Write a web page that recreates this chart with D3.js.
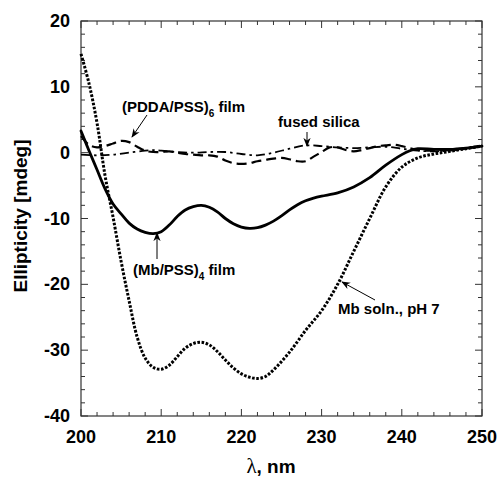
<!DOCTYPE html>
<html lang='en'>
  <head>
    <style type='text/css'>
      body {margin: 0; background-color: #fff;}
      svg {font-family: Arial, "Liberation Sans", sans-serif; font-weight: bold;}
    </style>
  </head>
  <body>
    <svg id='chart' width='498' height='483'></svg>
    <script src='https://d3js.org/d3.v7.min.js'></script>
    <script type='text/javascript'>
        // Data
        var solnLam = [200, 201, 202, 203, 204, 205, 206, 207, 208, 209, 210, 211, 212, 213, 214, 215, 216, 217, 218, 219, 220, 221, 222, 223, 224, 226, 228, 230, 232, 234, 236, 238, 240, 242, 244, 246, 248, 250];
        var solnVal = [15, 10.5, 4.5, -3.5, -9.8, -16.5, -22.5, -28, -31.2, -32.6, -32.9, -32.3, -31, -29.7, -29, -28.8, -29.2, -30.2, -31.5, -32.7, -33.6, -34.1, -34.3, -34, -33, -30.3, -27, -24, -20, -15, -10, -5.2, -2.2, -0.8, -0.2, 0.2, 0.6, 1];

        var filmLam = [200, 201, 202, 203, 204, 205, 206, 207, 208, 209, 210, 211, 212, 213, 214, 215, 216, 217, 218, 219, 220, 221, 222, 223, 224, 225, 226, 227, 228, 229, 230, 232, 234, 236, 238, 240, 241, 242, 244, 246, 248, 250];
        var filmVal = [3.3, 0.3, -2.6, -5.5, -7.8, -9.3, -10.7, -11.6, -12.1, -12.3, -12.0, -11, -9.7, -8.7, -8.2, -8.0, -8.3, -9, -10, -10.8, -11.3, -11.5, -11.4, -11, -10.4, -9.6, -8.7, -7.9, -7.3, -6.9, -6.6, -6.1, -5.2, -3.8, -1.9, -0.3, 0.3, 0.6, 0.5, 0.5, 0.7, 1];

        var pddaLam = [200, 201, 202, 203, 204, 205, 206, 207, 208, 209, 210, 211, 212, 213, 214, 215, 216, 217, 218, 219, 220, 221, 222, 223, 224, 225, 226, 227, 228, 229, 230, 231, 232, 233, 234, 235, 236, 237, 238, 239, 240, 241, 242, 244, 246, 248, 250];
        var pddaVal = [2.5, 1.2, 0.8, 1.0, 1.4, 1.8, 1.6, 0.9, 0.3, 0.1, 0.1, 0.2, 0, -0.2, -0.3, -0.4, -0.4, -0.6, -1.2, -1.6, -1.7, -1.6, -1.3, -1.1, -0.9, -0.8, -1.0, -1.3, -1.3, -0.6, 0.1, 0.8, 0.8, 0.4, 0.2, 0.4, 0.7, 1.0, 1.1, 1.2, 1.0, 0.7, 0.4, 0.3, 0.4, 0.7, 1.1];

        var silicaLam = [200, 202, 204, 206, 208, 209, 210, 212, 214, 216, 218, 220, 222, 224, 226, 228, 230, 232, 234, 236, 238, 240, 242, 244, 246, 248, 250];
        var silicaVal = [-0.3, -0.4, -0.3, 0.0, 0.3, 0.4, 0.3, 0.1, 0.0, 0.1, 0.1, -0.2, -0.4, 0, 0.6, 1.1, 1.0, 0.8, 0.7, 0.8, 0.9, 0.6, 0.3, 0.2, 0.3, 0.6, 1.0];

        var xTicks = [200, 210, 220, 230, 240, 250];
        var yTicks = [20, 10, 0, -10, -20, -30, -40];

        var svg = d3.select("#chart");
        var margin = {top: 21, right: 16, bottom: 67, left: 81};
        var width = 498 - margin.left - margin.right;
        var height = 483 - margin.top - margin.bottom;

        var x = d3.scaleLinear().domain([200, 250]).range([0, width]);
        var y = d3.scaleLinear().domain([-40, 20]).range([height, 0]);

        var g = svg.append("g")
            .attr("transform", "translate(" + margin.left + "," + margin.top + ")");

        // ticks, inward on all four sides
        var xMinor = d3.range(200, 251, 2);
        var yMinor = d3.range(-40, 21, 2);
        function isMajor(v) { return v % 10 === 0; }

        var ticks = g.append("g").attr("stroke", "#333").attr("stroke-width", 1);
        xMinor.forEach(function(v) {
          var len = isMajor(v) ? 7 : 4;
          ticks.append("line").attr("x1", x(v)).attr("x2", x(v)).attr("y1", height).attr("y2", height - len);
          ticks.append("line").attr("x1", x(v)).attr("x2", x(v)).attr("y1", 0).attr("y2", len);
        });
        yMinor.forEach(function(v) {
          var len = isMajor(v) ? 7 : 4;
          ticks.append("line").attr("y1", y(v)).attr("y2", y(v)).attr("x1", 0).attr("x2", len);
          ticks.append("line").attr("y1", y(v)).attr("y2", y(v)).attr("x1", width).attr("x2", width - len);
        });

        g.append("rect")
            .attr("width", width).attr("height", height)
            .attr("fill", "none").attr("stroke", "#333").attr("stroke-width", 1.2);

        // tick labels
        g.selectAll(".xl").data(xTicks).enter().append("text")
            .attr("x", function(d) { return x(d); })
            .attr("y", height + 27)
            .attr("text-anchor", "middle")
            .attr("font-size", 18)
            .text(function(d) { return d; });
        g.selectAll(".yl").data(yTicks).enter().append("text")
            .attr("x", -11)
            .attr("y", function(d) { return y(d) + 6; })
            .attr("text-anchor", "end")
            .attr("font-size", 18)
            .text(function(d) { return d; });

        // axis titles
        var xt = svg.append("text")
            .attr("x", 271)
            .attr("y", 473)
            .attr("text-anchor", "middle")
            .attr("font-size", 19);
        xt.append("tspan").attr("font-family", "'Liberation Serif', 'DejaVu Serif', serif")
            .attr("font-weight", "normal").attr("font-size", 21).text("\u03bb");
        xt.append("tspan").text(", nm");
        svg.append("text")
            .attr("transform", "translate(27,216) rotate(-90)")
            .attr("text-anchor", "middle")
            .attr("font-size", 19)
            .text("Ellipticity [mdeg]");

        // curves
        var line = d3.line()
            .x(function(d) { return x(d[0]); })
            .y(function(d) { return y(d[1]); })
            .curve(d3.curveCatmullRom);

        function pairs(a, b) { return a.map(function(v, i) { return [v, b[i]]; }); }

        var series = [
          {pts: pairs(silicaLam, silicaVal), w: 1.8, dash: "9,4,2.5,4", cap: "butt"},
          {pts: pairs(pddaLam, pddaVal), w: 2.2, dash: "10,5", cap: "butt"},
          {pts: pairs(solnLam, solnVal), w: 3, dash: "2.6,1.6", cap: "butt"},
          {pts: pairs(filmLam, filmVal), w: 2.8, dash: null, cap: "round"}
        ];
        series.forEach(function(s) {
          g.append("path")
              .datum(s.pts)
              .attr("d", line)
              .attr("fill", "none")
              .attr("stroke", "#000")
              .attr("stroke-width", s.w)
              .attr("stroke-linecap", s.cap)
              .attr("stroke-dasharray", s.dash);
        });

        // annotations
        svg.append("defs").append("marker")
            .attr("id", "arr").attr("viewBox", "0 0 10 10")
            .attr("refX", 9).attr("refY", 5)
            .attr("markerWidth", 9).attr("markerHeight", 9)
            .attr("orient", "auto")
            .append("path").attr("d", "M0,1 L10,5 L0,9 L3,5 Z").attr("fill", "#000");

        function label(tx, ty, main, sub, tail) {
          var t = svg.append("text").attr("x", tx).attr("y", ty).attr("font-size", 15);
          t.append("tspan").text(main);
          if (sub) {
            t.append("tspan").attr("dy", 5).attr("font-size", 10).text(sub);
            t.append("tspan").attr("dy", -5).text(tail);
          }
        }
        function arrow(x1, y1, x2, y2) {
          svg.append("line")
              .attr("x1", x1).attr("y1", y1).attr("x2", x2).attr("y2", y2)
              .attr("stroke", "#000").attr("stroke-width", 1)
              .attr("marker-end", "url(#arr)");
        }

        label(122, 112, "(PDDA/PSS)", "6", " film");
        arrow(147, 115, 132, 137);
        label(278, 127, "fused silica");
        arrow(307, 132, 307, 146);
        label(133, 275, "(Mb/PSS)", "4", " film");
        arrow(157, 259, 157, 233);
        label(338, 314, "Mb soln., pH 7");
        arrow(375, 300, 342, 282);
    </script>
  </body>
</html>
